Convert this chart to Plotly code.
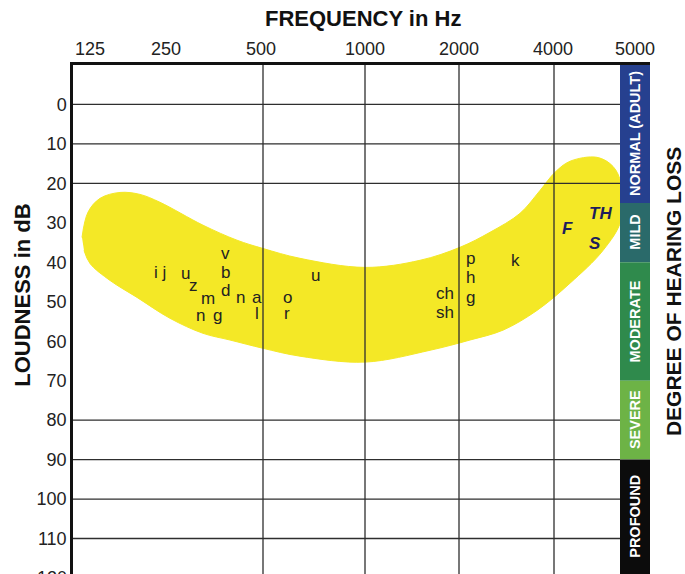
import plotly.graph_objects as go

# x is an "octave position" axis: the source drawing is not a true log scale
freq_labels = ["125", "250", "500", "1000", "2000", "4000", "5000"]
freq_pos = [0.27, 1.03, 1.98, 3.02, 3.96, 4.90, 5.72]
vgrid_pos = [2.0, 3.02, 3.96, 4.91]          # 500, 1000, 2000, 4000
db_ticks = [0, 10, 20, 30, 40, 50, 60, 70, 80, 90, 100, 110]
hgrid_db = [0, 10, 20, 80, 90, 100, 110]

# speech banana outline
banana_x = [0.19, 0.25, 0.37, 0.57, 0.77, 0.97, 1.40, 1.74, 2.00, 2.37, 3.02, 3.57, 3.97,
            4.27, 4.57, 4.77, 4.92, 5.07, 5.34, 5.50, 5.58, 5.58, 5.40, 5.07, 4.74, 4.40,
            4.07, 3.67, 3.02, 2.37, 2.00, 1.67, 1.40, 1.07, 0.74, 0.47, 0.27, 0.21]
banana_y = [33.7, 27.3, 23.8, 22.3, 22.8, 24.8, 30.6, 34.4, 36.5, 39.0, 41.3, 39.5, 36.2,
            32.4, 27.6, 21.8, 17.2, 14.4, 13.4, 15.7, 20.0, 29.4, 37.0, 45.3, 52.2, 57.2,
            59.7, 62.3, 65.3, 63.8, 61.8, 59.7, 58.0, 54.2, 48.9, 44.6, 40.3, 37.0]

sounds = ["i j", "u", "z", "v", "b", "d", "m", "n", "g", "n", "a", "l", "o", "r", "u",
          "ch", "sh", "p", "h", "g", "k"]
sound_x = [0.97, 1.22, 1.30, 1.62, 1.62, 1.62, 1.45, 1.37, 1.54, 1.77, 1.94, 1.94, 2.24, 2.24,
           2.52, 3.82, 3.82, 4.07, 4.07, 4.07, 4.52]
sound_y = [42.5, 42.8, 45.8, 37.7, 42.5, 47.1, 49.1, 53.4, 53.4, 48.9, 48.9, 52.9, 48.9, 52.9,
           43.3, 47.8, 52.7, 39.0, 43.8, 48.9, 39.5]

fric = ["F", "TH", "S"]
fric_x = [5.04, 5.37, 5.32]
fric_y = [31.4, 27.6, 35.2]

loss_names = ["NORMAL (ADULT)", "MILD", "MODERATE", "SEVERE", "PROFOUND"]
loss_from = [-10, 25, 40, 70, 90]
loss_to = [25, 40, 70, 90, 119]
loss_colors = ["#26408f", "#2a6a6a", "#2f8a4c", "#6db346", "#0c0c0c"]

bar_x0, bar_x1 = 5.57, 5.87
y_top, y_bot = -10, 119
font = "Liberation Sans"

fig = go.Figure()
fig.add_trace(go.Scatter(x=banana_x, y=banana_y, mode="lines", fill="toself",
                         fillcolor="#f4e826", line=dict(color="#f4e826", width=1, shape="spline"),
                         hoverinfo="skip", showlegend=False))

shapes = []
for d in hgrid_db:
    shapes.append(dict(type="line", xref="x", yref="y", x0=0.10, x1=bar_x0, y0=d, y1=d,
                       line=dict(color="#2e2e2e", width=1.3), layer="above"))
for p in vgrid_pos:
    shapes.append(dict(type="line", xref="x", yref="y", x0=p, x1=p, y0=y_top, y1=y_bot,
                       line=dict(color="#2e2e2e", width=1.3), layer="above"))
for c, a, b in zip(loss_colors, loss_from, loss_to):
    shapes.append(dict(type="rect", xref="x", yref="y", x0=bar_x0, x1=bar_x1, y0=a, y1=b,
                       fillcolor=c, line=dict(width=0), layer="above"))

ann = []
for t, x, y in zip(sounds, sound_x, sound_y):
    ann.append(dict(x=x, y=y, text=t, showarrow=False, font=dict(family=font, size=17, color="#222")))
for t, x, y in zip(fric, fric_x, fric_y):
    ann.append(dict(x=x, y=y, text="<b><i>" + t + "</i></b>", showarrow=False,
                    font=dict(family=font, size=17, color="#1d1d5c")))
for t, a, b in zip(loss_names, loss_from, loss_to):
    ann.append(dict(x=(bar_x0 + bar_x1) / 2, y=(a + b) / 2, text="<b>" + t + "</b>", textangle=-90,
                    showarrow=False, font=dict(family=font, size=14.5, color="white")))
# partly hidden 120 label at the cut-off bottom
ann.append(dict(xref="paper", yref="paper", x=0, y=(y_bot - 120) / (y_bot - y_top), text="120",
                xanchor="right", yanchor="middle", xshift=-4, showarrow=False,
                font=dict(family=font, size=18, color="#222")))
ann.append(dict(xref="paper", yref="paper", x=0.503, y=1.092, text="<b>FREQUENCY in Hz</b>",
                xanchor="center", yanchor="middle", showarrow=False,
                font=dict(family=font, size=22, color="#111")))
ann.append(dict(xref="paper", yref="paper", x=-0.089, y=0.548, text="<b>LOUDNESS in dB</b>",
                xanchor="center", yanchor="middle", textangle=-90, showarrow=False,
                font=dict(family=font, size=22, color="#111")))
ann.append(dict(xref="paper", yref="paper", x=1.040, y=0.554, text="<b>DEGREE OF HEARING LOSS</b>",
                xanchor="center", yanchor="middle", textangle=-90, showarrow=False,
                font=dict(family=font, size=21, color="#111")))

fig.update_layout(
    width=685, height=574,
    margin=dict(l=73, r=35, t=65, b=0, autoexpand=False),
    paper_bgcolor="white", plot_bgcolor="white",
    shapes=shapes, annotations=ann, showlegend=False,
    xaxis=dict(range=[0.10, bar_x1], side="top", tickvals=freq_pos, ticktext=freq_labels,
               showgrid=False, zeroline=False, showline=True, linecolor="#111", linewidth=3,
               ticks="", automargin=False, tickfont=dict(family=font, size=18, color="#222")),
    yaxis=dict(range=[y_bot, y_top], tickvals=db_ticks, showgrid=False, zeroline=False,
               showline=True, linecolor="#111", linewidth=2.5, ticks="", automargin=False,
               tickfont=dict(family=font, size=18, color="#222")),
)

# drop the page's default 8px body margin so the figure fills the window
fig.write_html("out.html", config={"displayModeBar": False},
               post_script="document.body.style.margin='0';")
